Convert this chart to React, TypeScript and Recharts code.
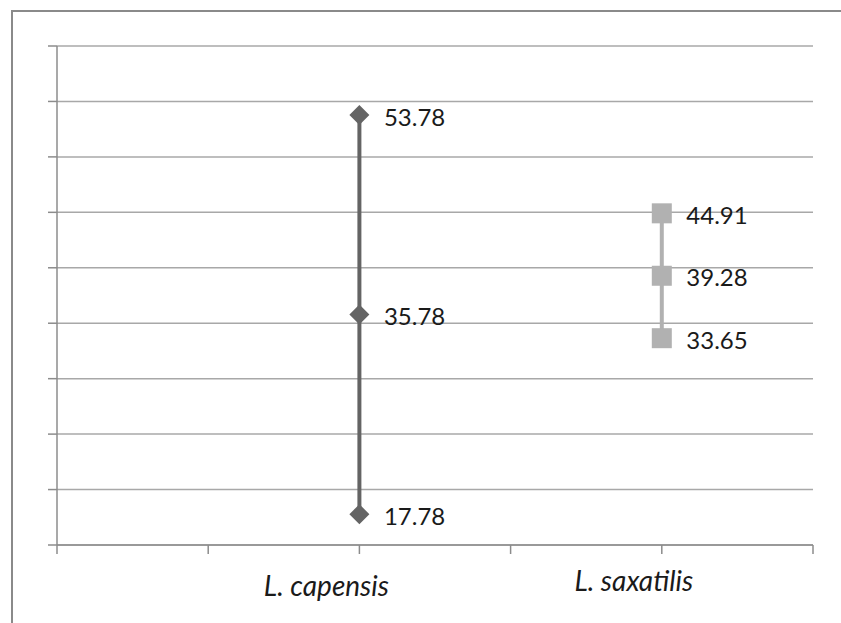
import { ScatterChart, Scatter, XAxis, YAxis, CartesianGrid, LabelList } from 'recharts'

// category labels and where they sit on the 0..5 axis
const categories = ['L. capensis', 'L. saxatilis']
const categoryPos = [2, 4]

// high / mid / low per species
const capensisValues = [53.78, 35.78, 17.78]
const saxatilisValues = [44.91, 39.28, 33.65]

const xTicks = [0, 1, 2, 3, 4, 5]
const yTicks = [15, 20, 25, 30, 35, 40, 45, 50, 55, 60]

const capensisData = capensisValues.map((v) => ({ x: categoryPos[0], y: v }))
const saxatilisData = saxatilisValues.map((v) => ({ x: categoryPos[1], y: v }))

const DARK = '#646464'
const LIGHT = '#b1b1b1'
const GRID = '#a8a8a8'
const AXIS = '#8c8c8c'
const FONT = 'Lato, "Open Sans", sans-serif'

// hand-placed category text, like in the original sheet
const LABEL_SHIFT: Record<number, { dx: number; dy: number }> = {
  2: { dx: -33, dy: 40 },
  4: { dx: -28, dy: 35 },
}

const CategoryTick = (props: any) => {
  const { x, y, payload } = props
  const i = categoryPos.indexOf(payload.value)
  if (i < 0) return null
  const s = LABEL_SHIFT[payload.value]
  return (
    <text x={x + s.dx} y={y + s.dy} textAnchor="middle" fontFamily={FONT}
      fontStyle="italic" fontSize={28} fill="#1a1a1a">
      {categories[i]}
    </text>
  )
}

const Diamond = (props: any) => {
  const { cx, cy } = props
  const r = 10
  return <path d={`M${cx},${cy - r}L${cx + r},${cy}L${cx},${cy + r}L${cx - r},${cy}Z`} fill={DARK} />
}

const Square = (props: any) => {
  const { cx, cy } = props
  return <rect x={cx - 10} y={cy - 10} width={20} height={20} fill={LIGHT} />
}

const ValueLabel = (props: any) => {
  const { x, y, width, height, value } = props
  return (
    <text x={x + width + 20} y={y + height / 2 + 2} dy="0.36em" fontFamily={FONT}
      fontSize={24} fill="#1a1a1a">
      {Number(value).toFixed(2)}
    </text>
  )
}

export default function App() {
  return (
    <div style={{ position: 'absolute', left: 0, top: 0, width: 841, height: 623, overflow: 'hidden', background: '#fff' }}>
      <div style={{
        position: 'absolute', left: 11, top: 10, width: 900, height: 700,
        borderTop: '2px solid #8a8a8a', borderLeft: '2px solid #8a8a8a',
      }} />
      <ScatterChart width={841} height={623} margin={{ top: 46, right: 28, bottom: 0, left: 47 }}
        style={{ position: 'absolute', left: 0, top: 0 }}>
        <CartesianGrid vertical={false} stroke={GRID} strokeWidth={1.5} />
        <XAxis type="number" dataKey="x" domain={[0, 5]} ticks={xTicks} interval={0}
          stroke={AXIS} strokeWidth={1.5} tickSize={9} tick={<CategoryTick />} height={78} />
        <YAxis type="number" dataKey="y" domain={[15, 60]} ticks={yTicks} interval={0}
          stroke={AXIS} strokeWidth={1.5} tickSize={9} width={10} tickFormatter={() => ''} />
        <Scatter data={capensisData} shape={<Diamond />} isAnimationActive={false}
          line={{ stroke: DARK, strokeWidth: 4 }}>
          <LabelList dataKey="y" content={<ValueLabel />} />
        </Scatter>
        <Scatter data={saxatilisData} shape={<Square />} isAnimationActive={false}
          line={{ stroke: LIGHT, strokeWidth: 4 }}>
          <LabelList dataKey="y" content={<ValueLabel />} />
        </Scatter>
      </ScatterChart>
    </div>
  )
}
